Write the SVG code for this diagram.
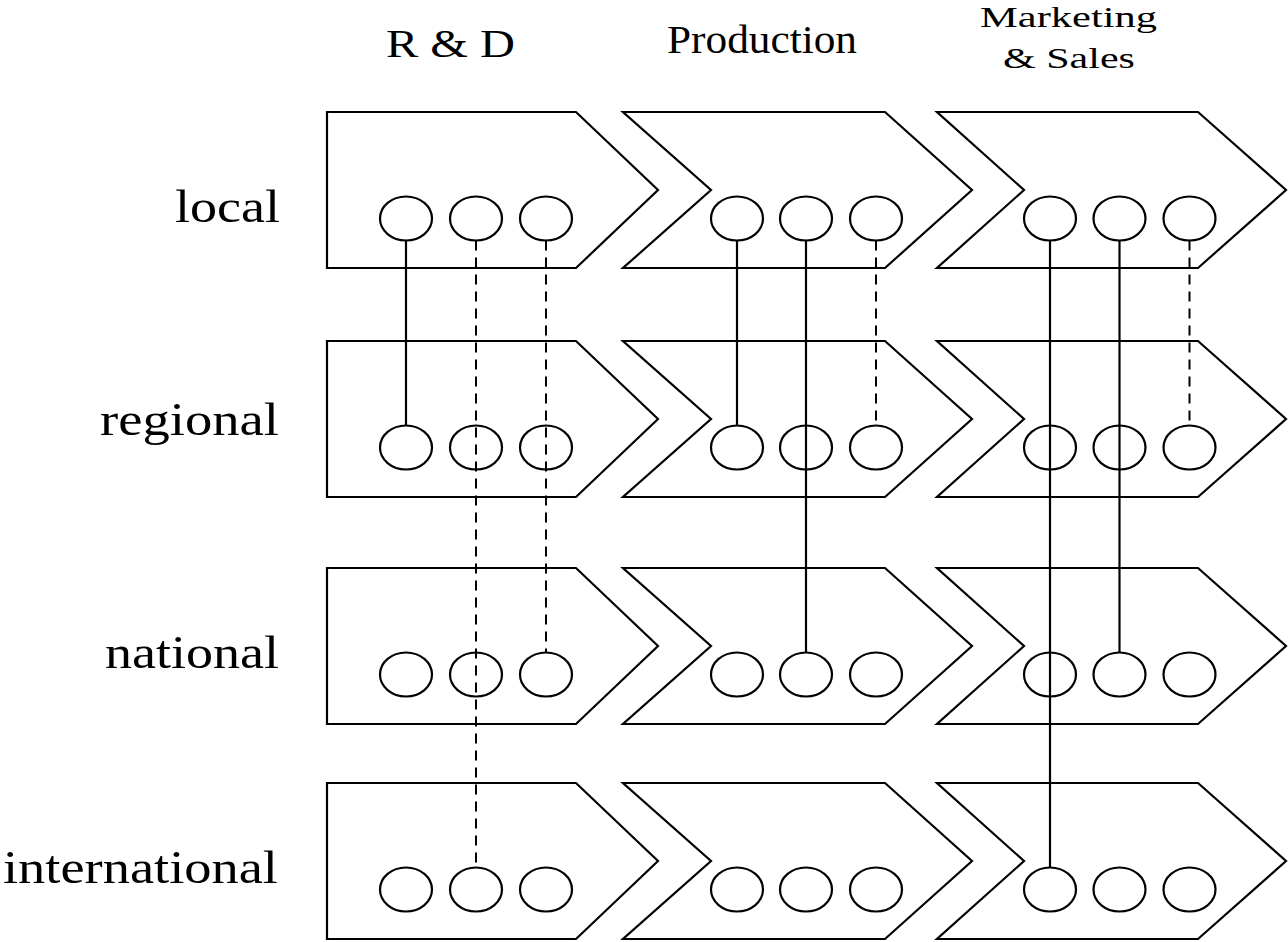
<svg xmlns="http://www.w3.org/2000/svg" width="1288" height="942" viewBox="0 0 1288 942">
<style>
.shape{fill:#fff;stroke:#000;stroke-width:2.2;stroke-linejoin:miter}
.dot{fill:none;stroke:#000;stroke-width:2.2}
.solid{stroke:#000;stroke-width:2.2;fill:none}
.dash{stroke:#000;stroke-width:2;fill:none;stroke-dasharray:10 7}
text{font-family:"Liberation Serif","Times New Roman",serif;fill:#000}
.lbl{font-size:46px}
.hdr{font-size:39px}
.hdr2{font-size:30px}
</style>
<defs>
<g id="c1"><path class="shape" d="M327,0 L576,0 L658,78 L576,156 L327,156 Z"/><ellipse class="dot" cx="406" cy="106.5" rx="26" ry="22"/><ellipse class="dot" cx="476" cy="106.5" rx="26" ry="22"/><ellipse class="dot" cx="546" cy="106.5" rx="26" ry="22"/></g>
<g id="c2"><path class="shape" d="M623,0 L885,0 L972,78 L885,156 L623,156 L711,78 Z"/><ellipse class="dot" cx="737" cy="106.5" rx="26" ry="22"/><ellipse class="dot" cx="806" cy="106.5" rx="26" ry="22"/><ellipse class="dot" cx="876" cy="106.5" rx="26" ry="22"/></g>
<g id="c3"><path class="shape" d="M937,0 L1198,0 L1286,78 L1198,156 L937,156 L1024,78 Z"/><ellipse class="dot" cx="1050" cy="106.5" rx="26" ry="22"/><ellipse class="dot" cx="1119.5" cy="106.5" rx="26" ry="22"/><ellipse class="dot" cx="1189.5" cy="106.5" rx="26" ry="22"/></g>
</defs>
<g id="headers">
<text class="hdr" x="386" y="57" textLength="129" lengthAdjust="spacingAndGlyphs">R &amp; D</text>
<text class="hdr" x="667" y="53" textLength="190" lengthAdjust="spacingAndGlyphs">Production</text>
<text class="hdr2" x="980" y="27" textLength="177" lengthAdjust="spacingAndGlyphs">Marketing</text>
<text class="hdr2" x="1003" y="68" textLength="132" lengthAdjust="spacingAndGlyphs">&amp; Sales</text>
</g>
<g id="row-labels">
<text class="lbl" x="175" y="222" textLength="105" lengthAdjust="spacingAndGlyphs">local</text>
<text class="lbl" x="100" y="435" textLength="179" lengthAdjust="spacingAndGlyphs">regional</text>
<text class="lbl" x="105" y="668" textLength="174" lengthAdjust="spacingAndGlyphs">national</text>
<text class="lbl" x="3" y="883" textLength="275" lengthAdjust="spacingAndGlyphs">international</text>
</g>
<g id="rd-local"><use href="#c1" y="112"/></g>
<g id="prod-local"><use href="#c2" y="112"/></g>
<g id="ms-local"><use href="#c3" y="112"/></g>
<g id="rd-regional"><use href="#c1" y="341"/></g>
<g id="prod-regional"><use href="#c2" y="341"/></g>
<g id="ms-regional"><use href="#c3" y="341"/></g>
<g id="rd-national"><use href="#c1" y="568"/></g>
<g id="prod-national"><use href="#c2" y="568"/></g>
<g id="ms-national"><use href="#c3" y="568"/></g>
<g id="rd-international"><use href="#c1" y="783"/></g>
<g id="prod-international"><use href="#c2" y="783"/></g>
<g id="ms-international"><use href="#c3" y="783"/></g>
<g id="connectors">
<line class="solid" x1="406" y1="240.5" x2="406" y2="425.5"/>
<line class="dash" x1="476" y1="240.5" x2="476" y2="867.5"/>
<line class="dash" x1="546" y1="240.5" x2="546" y2="652.5"/>
<line class="solid" x1="737" y1="240.5" x2="737" y2="425.5"/>
<line class="solid" x1="806" y1="240.5" x2="806" y2="652.5"/>
<line class="dash" x1="876" y1="240.5" x2="876" y2="425.5"/>
<line class="solid" x1="1050" y1="240.5" x2="1050" y2="867.5"/>
<line class="solid" x1="1119.5" y1="240.5" x2="1119.5" y2="652.5"/>
<line class="dash" x1="1189.5" y1="240.5" x2="1189.5" y2="425.5"/>
</g>
</svg>
